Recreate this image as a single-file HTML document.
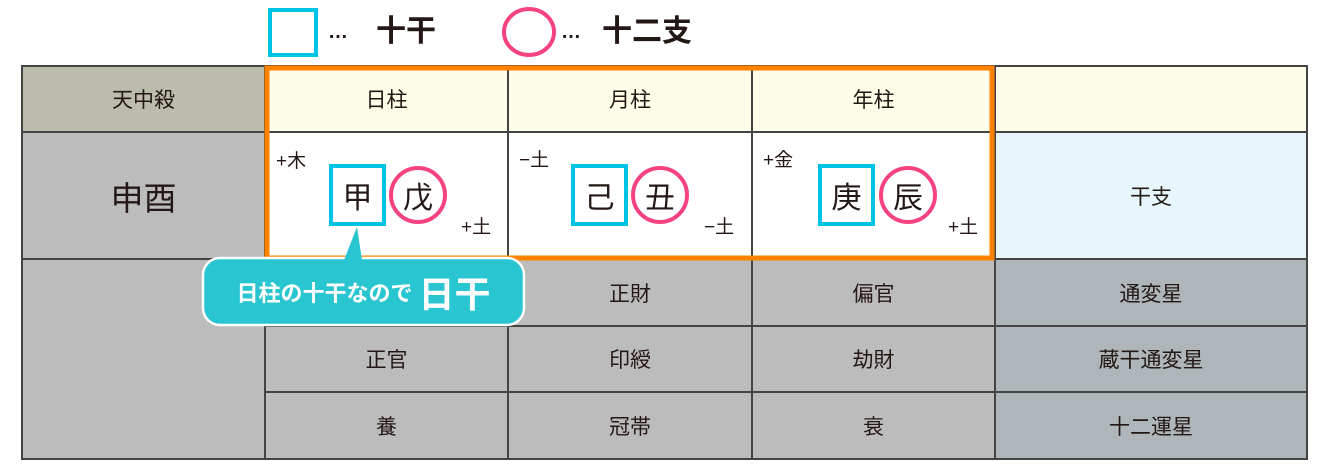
<!DOCTYPE html>
<html><head><meta charset="utf-8"><style>
body{margin:0;width:1322px;height:476px;background:#fff;position:relative;overflow:hidden;font-family:"Liberation Sans","Noto Sans CJK JP",sans-serif;color:#231815}
.a{position:absolute}
.c{position:absolute;display:flex;align-items:center;justify-content:center;box-sizing:border-box;font-size:21px}
</style></head><body>
<svg class="a" style="left:0;top:0" width="1322" height="476">
<rect x="22" y="66" width="243" height="66" fill="#bcbcad"/>
<rect x="22" y="132" width="243" height="327" fill="#bcbcbc"/>
<rect x="265" y="66" width="1042" height="66" fill="#fdfde8"/>
<rect x="265" y="132" width="730" height="127" fill="#fff"/>
<rect x="995" y="132" width="312" height="127" fill="#e6f6fa"/>
<rect x="265" y="259" width="730" height="200" fill="#bcbcbc"/>
<rect x="995" y="259" width="312" height="200" fill="#aeb6b9"/>
<g stroke="#444" stroke-width="2" fill="none">
<rect x="22" y="66" width="1285" height="393"/>
<line x1="22" y1="132" x2="1307" y2="132"/>
<line x1="22" y1="259" x2="1307" y2="259"/>
<line x1="265" y1="326" x2="1307" y2="326"/>
<line x1="265" y1="392" x2="1307" y2="392"/>
<line x1="265" y1="66" x2="265" y2="459"/>
<line x1="508" y1="66" x2="508" y2="459"/>
<line x1="752" y1="66" x2="752" y2="459"/>
<line x1="995" y1="66" x2="995" y2="459"/>
</g>
<rect x="267" y="68" width="725" height="190" fill="none" stroke="#ff8200" stroke-width="5"/>
<rect x="270" y="10" width="46" height="45" fill="none" stroke="#00c4e6" stroke-width="4"/>
<ellipse cx="529" cy="32" rx="25" ry="23" fill="none" stroke="#f5437f" stroke-width="4"/>
<g fill="none" stroke-width="4">
<rect x="331" y="166" width="53" height="58" stroke="#00c4e6"/>
<circle cx="418" cy="195" r="27" stroke="#f5437f"/>
<rect x="573" y="166" width="53" height="58" stroke="#00c4e6"/>
<circle cx="660" cy="195" r="27" stroke="#f5437f"/>
<rect x="820" y="166" width="53" height="58" stroke="#00c4e6"/>
<circle cx="908" cy="195" r="27" stroke="#f5437f"/>
</g>
<rect x="203" y="258" width="321" height="67" rx="17" fill="#29c5d0" stroke="#fff" stroke-width="2.5"/>
<polygon points="357,227 362,260 344,260" fill="#29c5d0"/>
</svg>
<div class="a" style="left:328px;top:20px;font-size:20px;font-weight:bold;line-height:24px">…</div>
<div class="a" style="left:376px;top:14px;font-size:30px;font-weight:bold;line-height:36px">十干</div>
<div class="a" style="left:561px;top:20px;font-size:20px;font-weight:bold;line-height:24px">…</div>
<div class="a" style="left:602px;top:14px;font-size:30px;font-weight:bold;line-height:36px">十二支</div>
<div class="c" style="left:22px;top:66px;width:243px;height:66px">天中殺</div>
<div class="c" style="left:265px;top:66px;width:243px;height:66px">日柱</div>
<div class="c" style="left:508px;top:66px;width:244px;height:66px">月柱</div>
<div class="c" style="left:752px;top:66px;width:243px;height:66px">年柱</div>
<div class="c" style="left:22px;top:132px;width:243px;height:127px;font-size:33px">申酉</div>
<div class="c" style="left:995px;top:132px;width:312px;height:127px">干支</div>
<div class="c" style="left:331px;top:166px;width:53px;height:58px;font-size:30px">甲</div>
<div class="c" style="left:391px;top:166px;width:54px;height:58px;font-size:30px">戊</div>
<div class="c" style="left:573px;top:166px;width:53px;height:58px;font-size:30px">己</div>
<div class="c" style="left:633px;top:166px;width:54px;height:58px;font-size:30px">丑</div>
<div class="c" style="left:820px;top:166px;width:53px;height:58px;font-size:30px">庚</div>
<div class="c" style="left:881px;top:166px;width:54px;height:58px;font-size:30px">辰</div>
<div class="a" style="left:276px;top:146px;font-size:19px">+木</div>
<div class="a" style="left:461px;top:212px;font-size:19px">+土</div>
<div class="a" style="left:519px;top:145px;font-size:19px">−土</div>
<div class="a" style="left:704px;top:212px;font-size:19px">−土</div>
<div class="a" style="left:763px;top:145px;font-size:19px">+金</div>
<div class="a" style="left:948px;top:212px;font-size:19px">+土</div>
<div class="c" style="left:508px;top:259px;width:244px;height:67px">正財</div>
<div class="c" style="left:752px;top:259px;width:243px;height:67px">偏官</div>
<div class="c" style="left:995px;top:259px;width:312px;height:67px">通変星</div>
<div class="c" style="left:265px;top:326px;width:243px;height:66px">正官</div>
<div class="c" style="left:508px;top:326px;width:244px;height:66px">印綬</div>
<div class="c" style="left:752px;top:326px;width:243px;height:66px">劫財</div>
<div class="c" style="left:995px;top:326px;width:312px;height:66px">蔵干通変星</div>
<div class="c" style="left:265px;top:392px;width:243px;height:67px">養</div>
<div class="c" style="left:508px;top:392px;width:244px;height:67px">冠帯</div>
<div class="c" style="left:752px;top:392px;width:243px;height:67px">衰</div>
<div class="c" style="left:995px;top:392px;width:312px;height:67px">十二運星</div>
<div class="c" style="left:203px;top:258px;width:321px;height:67px;color:#fff;font-weight:bold;font-size:22px;gap:6px"><span>日柱の十干なので</span><span style="font-size:36px">日干</span></div>
</body></html>
